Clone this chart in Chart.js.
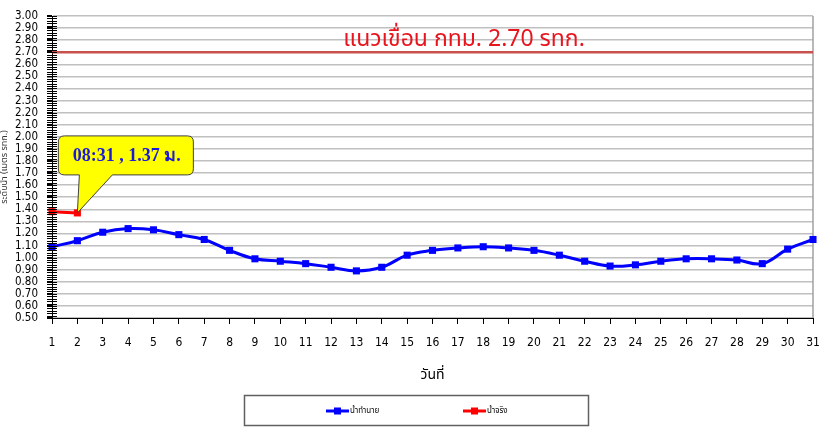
<!DOCTYPE html>
<html><head><meta charset="utf-8">
<script src="https://cdn.jsdelivr.net/npm/chart.js@4.4.1/dist/chart.umd.min.js"></script>
<style>html,body{margin:0;padding:0;background:#fff}#wrap{width:836px;height:432px;position:relative}</style>
</head><body><div id="wrap"><canvas id="c" width="836" height="432"></canvas></div>
<script>
const days = ["1","2","3","4","5","6","7","8","9","10","11","12","13","14","15","16","17","18","19","20","21","22","23","24","25","26","27","28","29","30","31"];
const forecast = [1.09,1.14,1.21,1.24,1.23,1.19,1.15,1.06,0.99,0.97,0.95,0.92,0.89,0.92,1.02,1.06,1.08,1.09,1.08,1.06,1.02,0.97,0.93,0.94,0.97,0.99,0.99,0.98,0.95,1.07,1.15];
const actual = [1.38,1.37,null,null,null,null,null,null,null,null,null,null,null,null,null,null,null,null,null,null,null,null,null,null,null,null,null,null,null,null,null];
const damLevel = 2.70;
const damLine = days.map(() => damLevel);
const seriesNames = ["น้ำทำนาย","น้ำจริง"];
const damText = "แนวเขื่อน กทม. 2.70 รทก.";
const calloutText = "08:31 , 1.37 ม.";
const yTitle = "ระดับน้ำ (เมตร รทก.)";
const xTitle = "วันที่";
const yMin = 0.5, yMax = 3.0;

const FONT = "Tahoma, 'Noto Sans Thai', 'DejaVu Sans', 'Liberation Sans', sans-serif";

const extras = {
  id: 'extras',
  afterDatasetsDraw(chart) {
    const ctx = chart.ctx;
    const y = chart.scales.y;
    const ca = chart.chartArea;
    ctx.save();
    // minor ticks crossing y axis
    ctx.strokeStyle = '#000';
    ctx.lineWidth = 1;
    ctx.beginPath();
    for (let i = 0; i <= 125; i++) {
      const v = yMin + i * 0.02;
      const py = Math.round(y.getPixelForValue(v)) + 0.5;
      ctx.moveTo(ca.left - 5, py);
      ctx.lineTo(ca.left + 5, py);
    }
    ctx.stroke();
    // dam label
    ctx.fillStyle = '#e8141e';
    ctx.font = "23px " + FONT;
    ctx.textAlign = 'center';
    ctx.textBaseline = 'middle';
    ctx.fillText(damText, 464, y.getPixelForValue(damLevel) - 11);
    // callout anchored at actual point index 1
    const pt = chart.getDatasetMeta(1).data[1];
    const tx = pt.x, ty = pt.y;
    const bx = tx - 19, by = ty - 77, bw = 135, bh = 39, r = 6;
    ctx.beginPath();
    ctx.moveTo(bx + r, by);
    ctx.lineTo(bx + bw - r, by);
    ctx.quadraticCurveTo(bx + bw, by, bx + bw, by + r);
    ctx.lineTo(bx + bw, by + bh - r);
    ctx.quadraticCurveTo(bx + bw, by + bh, bx + bw - r, by + bh);
    ctx.lineTo(tx + 35, by + bh);
    ctx.lineTo(tx, ty);
    ctx.lineTo(tx + 2, by + bh);
    ctx.lineTo(bx + r, by + bh);
    ctx.quadraticCurveTo(bx, by + bh, bx, by + bh - r);
    ctx.lineTo(bx, by + r);
    ctx.quadraticCurveTo(bx, by, bx + r, by);
    ctx.closePath();
    ctx.fillStyle = '#ffff00';
    ctx.fill();
    ctx.strokeStyle = '#404040';
    ctx.lineWidth = 1;
    ctx.stroke();
    ctx.fillStyle = '#1a1ad8';
    ctx.font = "bold 18px 'Liberation Serif', 'Times New Roman', 'DejaVu Serif', serif";
    ctx.fillText(calloutText, bx + bw / 2 + 1, by + bh / 2 + 1);
    // legend
    ctx.strokeStyle = '#606060';
    ctx.lineWidth = 1.5;
    ctx.strokeRect(244.5, 395.5, 344, 30);
    const items = [{c:'#0000ff', x:326}, {c:'#ff0000', x:463}];
    ctx.font = "8px " + FONT;
    ctx.textAlign = 'left';
    items.forEach((it, i) => {
      const ly = 411;
      ctx.strokeStyle = it.c; ctx.lineWidth = 3;
      ctx.beginPath(); ctx.moveTo(it.x, ly); ctx.lineTo(it.x + 23, ly); ctx.stroke();
      ctx.fillStyle = it.c; ctx.fillRect(it.x + 8, ly - 3.5, 7, 7);
      ctx.fillStyle = '#000';
      ctx.fillText(seriesNames[i], it.x + 24, ly);
    });
    ctx.restore();
  }
};

new Chart(document.getElementById('c'), {
  type: 'line',
  data: {
    labels: days,
    datasets: [
      { label: seriesNames[0], data: forecast, borderColor: '#0000ff', backgroundColor: '#0000ff', borderWidth: 3, tension: 0.4, pointStyle: 'rect', pointRadius: 5, pointBorderWidth: 0 },
      { label: seriesNames[1], data: actual, borderColor: '#ff0000', backgroundColor: '#ff0000', borderWidth: 3, tension: 0, pointStyle: 'rect', pointRadius: 5, pointBorderWidth: 0, spanGaps: false },
      { label: 'dam', data: damLine, borderColor: '#c8504d', borderWidth: 2.5, pointRadius: 0, tension: 0 }
    ]
  },
  options: {
    responsive: false,
    animation: false,
    layout: { padding: { top: 16, right: 23, left: 0, bottom: 0 } },
    plugins: { legend: { display: false }, tooltip: { enabled: false } },
    scales: {
      x: {
        type: 'category',
        offset: false,
        grid: { display: true, drawOnChartArea: false, drawTicks: true, tickLength: 6, color: '#000' },
        border: { display: true, color: '#000', width: 1 },
        ticks: { color: '#000', font: { family: "'Liberation Sans Narrow', 'DejaVu Sans Condensed', 'Liberation Sans', sans-serif", size: 12 }, padding: 12, autoSkip: false, maxRotation: 0 },
        title: { display: true, text: xTitle, color: '#000', font: { family: FONT, size: 14 }, padding: { top: 4, bottom: 47 } },
        afterFit: s => { s.height = 114; }
      },
      y: {
        min: yMin, max: yMax,
        grid: { color: '#c0c0c0', lineWidth: 1.5, drawTicks: true, tickLength: 5, tickColor: '#000' },
        border: { display: true, color: '#000', width: 1 },
        ticks: { stepSize: 0.1, color: '#000', font: { family: "'DejaVu Sans Condensed', 'Liberation Sans', sans-serif", size: 11.5 }, padding: 9, callback: v => Number(v).toFixed(2), autoSkip: false },
        title: { display: true, text: yTitle, color: '#333', font: { family: FONT, size: 9 }, padding: 0 },
        afterFit: s => { s.width = 52; }
      }
    }
  },
  plugins: [extras, {
    id: 'rightBorder',
    beforeDatasetsDraw(chart) {
      const ca = chart.chartArea, ctx = chart.ctx;
      ctx.save(); ctx.strokeStyle = '#a0a0a0'; ctx.lineWidth = 1.5;
      ctx.beginPath(); ctx.moveTo(ca.right, ca.top); ctx.lineTo(ca.right, ca.bottom); ctx.stroke();
      ctx.restore();
    }
  }]
});
</script></body></html>
